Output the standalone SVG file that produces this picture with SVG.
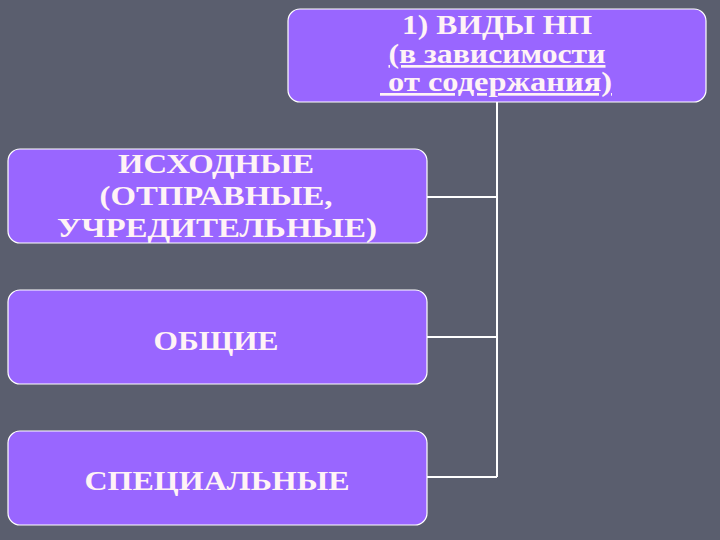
<svg xmlns="http://www.w3.org/2000/svg" width="720" height="540" viewBox="0 0 720 540">
<style>
.box{fill:#9966ff;stroke:#ffffff;stroke-width:1.2}
.t{font-family:"Liberation Serif","Times New Roman",serif;font-weight:bold;font-size:27px;fill:#fff3f6;text-anchor:middle}
.c{stroke:#ffffff;stroke-width:2;fill:none}
</style>
<rect width="720" height="540" fill="#5a5e6e"/>
<g id="connectors">
<path class="c" d="M497 102 V477 M427 197 H497 M427 337 H497 M427 477 H497"/>
</g>
<g id="top">
<rect class="box" x="288" y="9" width="418" height="93" rx="12"/>
<text class="t" x="497" y="34" textLength="190" lengthAdjust="spacingAndGlyphs">1) ВИДЫ НП</text>
<text class="t" x="497" y="63" textLength="217" lengthAdjust="spacingAndGlyphs" text-decoration="underline">(в зависимости</text>
<text class="t" x="496" y="91" textLength="232" lengthAdjust="spacingAndGlyphs" text-decoration="underline" xml:space="preserve"> от содержания)</text>
</g>
<g id="n1">
<rect class="box" x="8" y="149" width="419" height="94" rx="12"/>
<text class="t" x="216" y="173" textLength="196" lengthAdjust="spacingAndGlyphs">ИСХОДНЫЕ</text>
<text class="t" x="216" y="205" textLength="233" lengthAdjust="spacingAndGlyphs">(ОТПРАВНЫЕ,</text>
<text class="t" x="217" y="237" textLength="320" lengthAdjust="spacingAndGlyphs">УЧРЕДИТЕЛЬНЫЕ)</text>
</g>
<g id="n2">
<rect class="box" x="8" y="290" width="419" height="94" rx="12"/>
<text class="t" x="216" y="350" textLength="125" lengthAdjust="spacingAndGlyphs">ОБЩИЕ</text>
</g>
<g id="n3">
<rect class="box" x="8" y="431" width="419" height="94" rx="12"/>
<text class="t" x="217" y="490" textLength="265" lengthAdjust="spacingAndGlyphs">СПЕЦИАЛЬНЫЕ</text>
</g>
</svg>
